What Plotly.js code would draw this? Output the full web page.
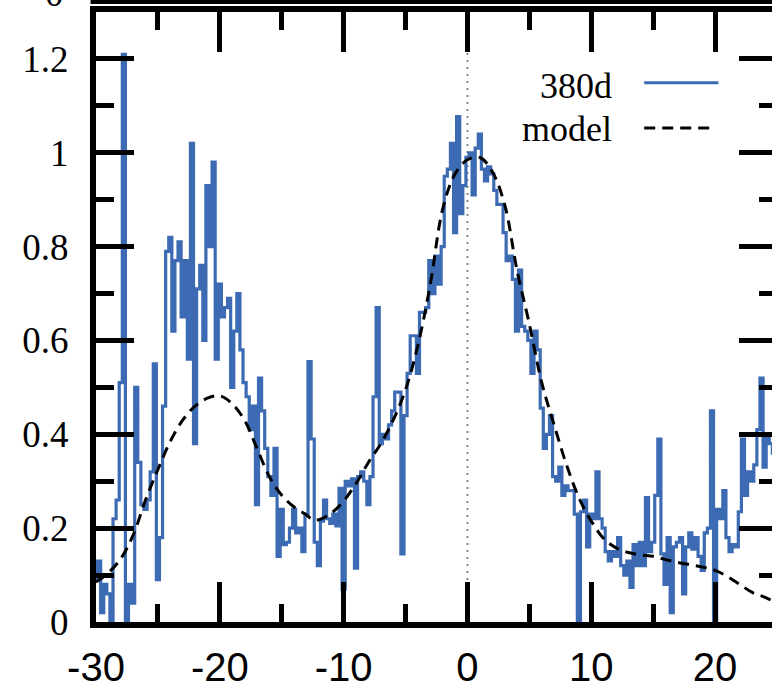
<!DOCTYPE html>
<html>
<head>
<meta charset="utf-8">
<script src="https://cdn.plot.ly/plotly-3.0.1.min.js"></script>
<style>
  html, body { margin: 0; padding: 0; overflow: hidden; background: #fff; }
  #chart { width: 797px; height: 686px; }
</style>
</head>
<body>
<div id="chart"></div>
<script>
// ---- 380d observed spectrum (bin centres) ----
const binsA = [-30,-29.75,-29.5,-29.25,-29,-28.75,-28.5,-28.25,-28,-27.75,-27.5,-27.25,-27,-26.75,-26.5,-26.25,-26,-25.75,-25.5,-25.25,-25,-24.75,-24.5,-24.25,-24,-23.75,-23.5,-23.25,-23,-22.75,-22.5,-22.25,-22,-21.75,-21.5,-21.25];
const fluxA = [0.09,0.13,0.02,0.08,0.06,0.00,0.22,0.26,0.51,1.21,0.00,0.08,0.04,0.50,0.34,0.25,0.24,0.26,0.32,0.55,0.09,0.18,0.46,0.79,0.82,0.62,0.77,0.81,0.65,0.77,0.56,1.02,0.38,0.71,0.76,0.60];

const binsB = [-21,-20.75,-20.5,-20.25,-20,-19.75,-19.5,-19.25,-19,-18.75,-18.5,-18.25,-18,-17.75,-17.5,-17.25,-17,-16.75,-16.5,-16.25,-16,-15.75,-15.5,-15.25,-15,-14.75,-14.5,-14.25,-14,-13.75,-13.5,-13.25,-13,-12.75,-12.5];
const fluxB = [0.93,0.80,0.98,0.56,0.72,0.65,0.67,0.69,0.50,0.62,0.70,0.58,0.51,0.48,0.41,0.46,0.25,0.52,0.45,0.37,0.31,0.27,0.37,0.14,0.24,0.165,0.17,0.20,0.24,0.19,0.20,0.15,0.23,0.555,0.39];

const binsC = [-12.25,-12,-11.75,-11.5,-11.25,-11,-10.75,-10.5,-10.25,-10,-9.75,-9.5,-9.25,-9,-8.75,-8.5,-8.25,-8,-7.75,-7.5,-7.25,-7,-6.75,-6.5,-6.25,-6,-5.75,-5.5,-5.25,-5,-4.75,-4.5,-4.25,-4,-3.75,-3.5];
const fluxC = [0.17,0.12,0.215,0.26,0.22,0.21,0.23,0.205,0.285,0.07,0.30,0.29,0.305,0.115,0.31,0.32,0.30,0.25,0.31,0.48,0.67,0.38,0.40,0.39,0.42,0.45,0.49,0.49,0.145,0.44,0.53,0.61,0.61,0.53,0.66,0.66];

const binsD = [-3.25,-3,-2.75,-2.5,-2.25,-2,-1.75,-1.5,-1.25,-1,-0.75,-0.5,-0.25,0,0.25,0.5,0.75,1,1.25,1.5,1.75,2,2.25,2.5,2.75,3,3.25,3.5,3.75,4,4.25,4.5,4.75,5,5.25];
const fluxD = [0.67,0.77,0.70,0.78,0.72,0.80,0.95,0.965,1.02,0.83,1.077,0.87,0.93,0.99,1.00,0.91,1.01,1.04,0.965,0.94,0.97,0.955,0.92,0.89,0.89,0.83,0.77,0.78,0.73,0.62,0.75,0.63,0.62,0.60,0.53];

const binsE = [5.5,5.75,6,6.25,6.5,6.75,7,7.25,7.5,7.75,8,8.25,8.5,8.75,9,9.25,9.5,9.75,10,10.25,10.5,10.75,11,11.25,11.5,11.75,12,12.25,12.5,12.75,13,13.25,13.5,13.75,14,14.25];
const fluxE = [0.62,0.58,0.456,0.37,0.40,0.44,0.31,0.30,0.33,0.27,0.29,0.28,0.28,0.23,0.00,0.235,0.26,0.16,0.23,0.22,0.32,0.22,0.20,0.15,0.13,0.15,0.14,0.18,0.12,0.10,0.13,0.074,0.165,0.12,0.17,0.12];

const binsF = [14.5,14.75,15,15.25,15.5,15.75,16,16.25,16.5,16.75,17,17.25,17.5,17.75,18,18.25,18.5,18.75,19,19.25,19.5,19.75,20,20.25,20.5,20.75,21,21.25,21.5,21.75,22,22.25,22.5,22.75,23,23.25,23.5,23.75,24,24.25,24.5,24.75];
const fluxF = [0.265,0.15,0.17,0.27,0.39,0.145,0.08,0.18,0.02,0.16,0.17,0.18,0.06,0.16,0.19,0.155,0.18,0.14,0.11,0.19,0.20,0.45,0.00,0.24,0.22,0.28,0.18,0.15,0.165,0.16,0.235,0.39,0.27,0.32,0.30,0.335,0.41,0.52,0.33,0.40,0.38,0.36];

// ---- model curve ----
const modelX = [-30,-29,-28,-27,-26,-25,-24,-23,-22,-21,-20,-19,-18,-17,-16,-15,-14,-13,-12.5,-12,-11,-10,-9,-8,-7,-6,-5,-4,-3,-2,-1,0,1,2,3,4,5,6,7,8,9,10,11,12,13,14,15,16,17,18,19,20,21,22,23,24,25];
const modelY = [0.085,0.105,0.135,0.185,0.26,0.325,0.385,0.43,0.46,0.477,0.482,0.465,0.43,0.37,0.31,0.27,0.245,0.228,0.218,0.218,0.232,0.258,0.295,0.34,0.38,0.43,0.495,0.59,0.72,0.88,0.955,0.985,0.99,0.96,0.89,0.75,0.635,0.51,0.42,0.335,0.265,0.215,0.178,0.158,0.148,0.143,0.14,0.133,0.127,0.122,0.117,0.11,0.097,0.08,0.063,0.053,0.04];

// ---- labels ----
const seriesNames = ['380d', 'model'];
const xTickVals = [-30, -20, -10, 0, 10, 20];
const xTickText = ['-30', '-20', '-10', '0', '10', '20'];

const obsX = binsA.concat(binsB, binsC, binsD, binsE, binsF);
const obsY = fluxA.concat(fluxB, fluxC, fluxD, fluxE, fluxF);

const BLUE = '#3c6bb3';
const serif = 'Liberation Serif, Times New Roman, serif';
const sans = 'Liberation Sans, Arial, Helvetica, sans-serif';

const traces = [
  {
    x: obsX, y: obsY, type: 'scatter', mode: 'lines', name: seriesNames[0],
    line: { color: BLUE, width: 3.2, shape: 'hvh' }, hoverinfo: 'skip'
  },
  {
    x: modelX, y: modelY, type: 'scatter', mode: 'lines', name: seriesNames[1],
    line: { color: '#000', width: 3, shape: 'spline', dash: '11px,7px' }, hoverinfo: 'skip'
  }
];

const axisCommon = {
  showgrid: false, zeroline: false, showline: true, linewidth: 6, linecolor: '#000',
  mirror: 'allticks', ticks: 'inside', tickwidth: 5, tickcolor: '#000'
};

const layout = {
  width: 797, height: 686,
  margin: { l: 96, r: 20, t: 12, b: 64, pad: 0 },
  paper_bgcolor: '#fff', plot_bgcolor: '#fff',
  showlegend: false,
  xaxis: Object.assign({}, axisCommon, {
    range: [-30, 25], tickmode: 'array', tickvals: xTickVals, ticktext: xTickText, ticklen: 40,
    tickfont: { family: sans, size: 40, color: '#000' },
    ticklabelstandoff: 5,
    minor: { dtick: 5, tick0: -30, ticks: 'inside', ticklen: 18, tickwidth: 5, tickcolor: '#000', showgrid: false }
  }),
  yaxis: Object.assign({}, axisCommon, {
    range: [0, 1.3], tick0: 0, dtick: 0.2, ticklen: 38,
    tickfont: { family: serif, size: 37, color: '#000' },
    ticklabelstandoff: 14,
    minor: { dtick: 0.1, tick0: 0, ticks: 'inside', ticklen: 18, tickwidth: 5, tickcolor: '#000', showgrid: false }
  }),
  shapes: [
    { type: 'line', xref: 'x', yref: 'paper', x0: 0, x1: 0, y0: 0, y1: 1, layer: 'below',
      line: { color: '#888', width: 2, dash: '2px,5px' } },
    // legend samples
    { type: 'line', xref: 'paper', yref: 'paper', x0: 0.805, x1: 0.914, y0: 0.884, y1: 0.884,
      line: { color: BLUE, width: 3 } },
    { type: 'line', xref: 'paper', yref: 'paper', x0: 0.805, x1: 0.908, y0: 0.810, y1: 0.810,
      line: { color: '#000', width: 3, dash: '11px,7px' } },
    // bottom frame of the panel above
    { type: 'line', xref: 'paper', yref: 'paper', x0: -0.008, x1: 1.05, y0: 1.0172, y1: 1.0172,
      line: { color: '#000', width: 5 } }
  ],
  annotations: [
    { xref: 'paper', yref: 'paper', x: 0.761, y: 0.879, xanchor: 'right', yanchor: 'middle',
      text: seriesNames[0], showarrow: false, font: { family: serif, size: 36, color: '#000' } },
    { xref: 'paper', yref: 'paper', x: 0.761, y: 0.809, xanchor: 'right', yanchor: 'middle',
      text: seriesNames[1], showarrow: false, font: { family: serif, size: 36, color: '#000' } },
    { xref: 'paper', yref: 'paper', x: -0.044, y: 1.031, xanchor: 'right', yanchor: 'middle',
      text: '0', showarrow: false, font: { family: serif, size: 37, color: '#000' } }
  ]
};

Plotly.newPlot('chart', traces, layout, { displayModeBar: false, staticPlot: true });
</script>
</body>
</html>
